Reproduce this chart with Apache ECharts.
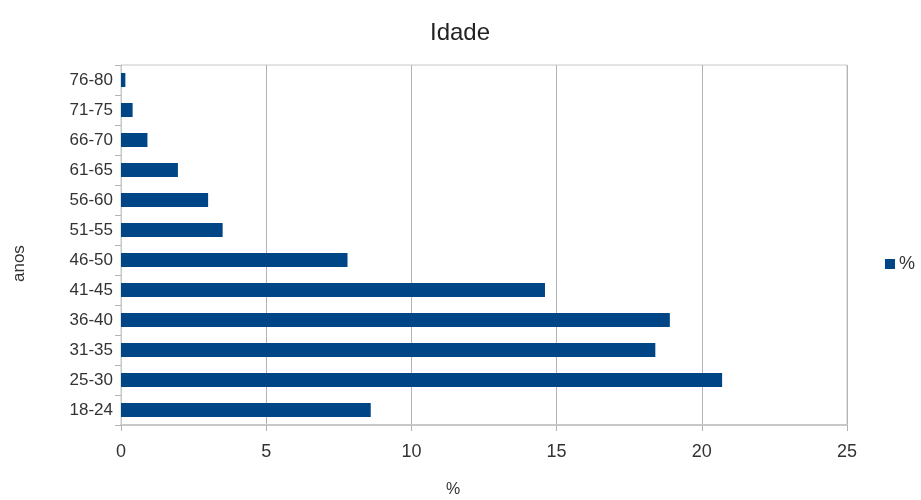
<!DOCTYPE html>
<html>
<head>
<meta charset="utf-8">
<script src="https://cdn.jsdelivr.net/npm/echarts@6/dist/echarts.min.js"></script>
<style>
html, body { margin: 0; padding: 0; background: #fff; }
#chart { width: 921px; height: 500px; }
</style>
</head>
<body>
<div id="chart"></div>
<script>
// faixas etarias (de baixo para cima)
var faixas = ["18-24", "25-30", "31-35", "36-40", "41-45", "46-50", "51-55", "56-60", "61-65", "66-70", "71-75", "76-80"];
var percent = [8.6, 20.7, 18.4, 18.9, 14.6, 7.8, 3.5, 3.0, 1.96, 0.91, 0.4, 0.15];
var xTicks = [0, 5, 10, 15, 20, 25];

var fonte = "'Liberation Sans', sans-serif";

var option = {
	animation: false,
	backgroundColor: "#fff",
	title: {
		text: "Idade",
		left: 425,
		top: 16,
		textStyle: { fontFamily: fonte, fontSize: 24, fontWeight: "normal", color: "#222" }
	},
	legend: {
		data: ["%"],
		left: 880,
		top: 250,
		orient: "vertical",
		itemWidth: 10,
		itemHeight: 10,
		icon: "rect",
		textStyle: { fontFamily: fonte, fontSize: 18, color: "#333", padding: [0, 0, 0, -1] }
	},
	grid: {
		left: 121,
		right: 74,
		top: 65,
		bottom: 75,
		show: true,
		borderColor: "#c8c8c8",
		borderWidth: 1
	},
	// nomes dos eixos
	graphic: [
		{ type: "text", left: 446, top: 482, style: { text: "%", font: "16px 'Liberation Sans', sans-serif", fill: "#333" } },
		{ type: "text", x: 11, y: 282, rotation: Math.PI / 2, style: { text: "anos", font: "17px 'Liberation Sans', sans-serif", fill: "#333" } }
	],
	xAxis: {
		type: "value",
		min: xTicks[0],
		max: xTicks[xTicks.length - 1],
		interval: 5,
		axisLine: { show: true, lineStyle: { color: "#c8c8c8", width: 2 } },
		axisTick: { show: true, length: 6, lineStyle: { color: "#b3b3b3" } },
		axisLabel: { margin: 18, fontFamily: fonte, fontSize: 18, color: "#333" },
		splitLine: { show: true, lineStyle: { color: "#b3b3b3" } }
	},
	yAxis: {
		type: "category",
		data: faixas,
		axisLine: { show: true, lineStyle: { color: "#c8c8c8", width: 1 } },
		axisTick: { show: true, length: 6, lineStyle: { color: "#b3b3b3" } },
		axisLabel: { margin: 8, fontFamily: fonte, fontSize: 17, color: "#333" },
		splitLine: { show: false }
	},
	series: [{
		name: "%",
		type: "bar",
		data: percent,
		barWidth: 14,
		itemStyle: { color: "#004586" }
	}]
};

var myChart = echarts.init(document.getElementById("chart"));
myChart.setOption(option);
</script>
</body>
</html>
